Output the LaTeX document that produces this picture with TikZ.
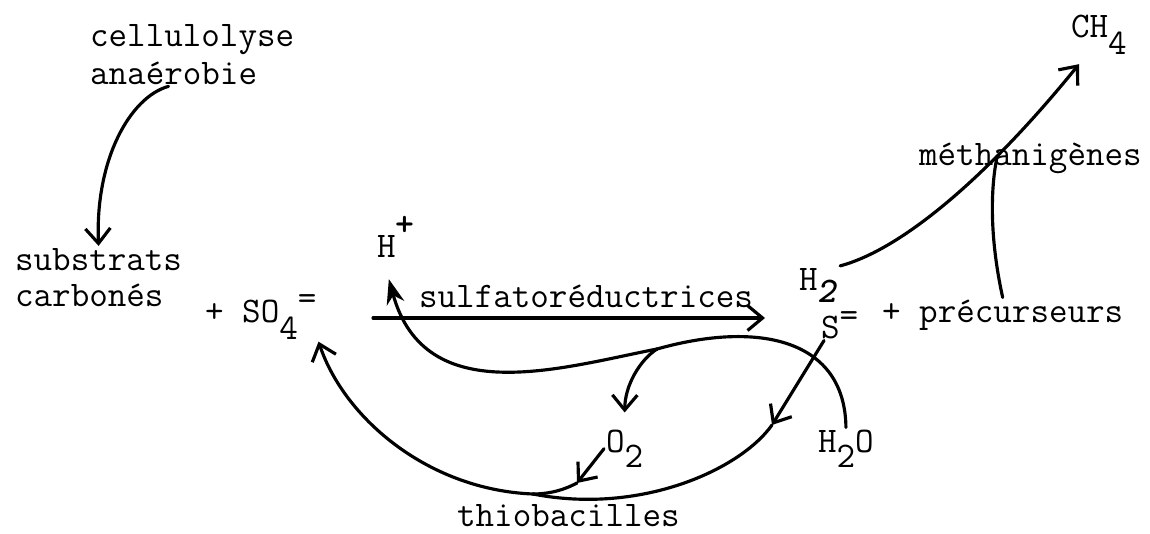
\documentclass[tikz,border=0pt]{standalone}
\usepackage{fontspec}
\usetikzlibrary{arrows.meta}

\begin{document}
\begin{tikzpicture}[x=0.02cm,y=-0.02cm,line cap=round,line join=round,
  lbl/.style={anchor=base west,inner sep=1pt,font=\ttfamily\fontsize{20.5}{22}\selectfont},
  flux/.style={line width=1.8pt},
  >={Straight Barb[length=3mm,width=5mm]}]
  \useasboundingbox (0,0) rectangle (1150,534);
  % textes
  \node[lbl] (cel) at (88,47) {cellulolyse};\node[lbl] (ana) at (88,84) {anaérobie};
  \node[lbl] (sub) at (13,270) {substrats};\node[lbl] (car) at (13,306) {carbonés};
  \node[lbl] (so4) at (203,322) {+ SO\raisebox{-10pt}{4}\raisebox{7pt}{=}};
  \node[lbl] (hp) at (375,257) {H\raisebox{12pt}{\textbf{+}}};
  \node[lbl] (sred) at (417,307) {sulfatoréductrices};
  \node[lbl] (h2) at (797,290) {H\raisebox{-7pt}{\textbf{\textit{2}}}};
  \node[lbl] (s) at (819,338) {S\raisebox{6.5pt}{=}};
  \node[lbl] (prec) at (880,322) {+ précurseurs};
  \node[lbl] (meth) at (917,165) {méthanigènes};
  \node[lbl] (ch4) at (1069,37) {CH\raisebox{-10pt}{4}};
  \node[lbl] (o2) at (604,452) {O\raisebox{-9pt}{2}};
  \node[lbl] (h2o) at (816,452) {H\raisebox{-9pt}{2}O};
  \node[lbl] (thio) at (455,526) {thiobacilles};
  % points libres
  \coordinate (RA) at (373,318);\coordinate (RB) at (765,318);
  \coordinate (BR) at (657,349);\coordinate (J) at (533,494);
  \coordinate (SA) at (772,425);\coordinate (OA) at (577,483);
  % fleches
  \draw[flux,->] ([xshift=-0.1cm]ana.south) .. controls (130,97) and (95,160) .. (sub.north);
  \draw[flux,->] (RA) -- (RB);
  \draw[flux] (h2o.north) .. controls (845,340) and (760,320) .. (BR);
  \draw[flux,-{Stealth[length=5mm,width=3.6mm]}] (BR) .. controls (560,368) and (425,410) .. ([xshift=-0.14cm,yshift=-0.4cm]hp.south);
  \draw[flux,->] (BR) .. controls (640,360) and (625,385) .. ([yshift=0.3cm]o2.north);
  \draw[flux,->] (o2.west) -- (OA);\draw[flux] (OA) .. controls (560,492) and (545,494) .. (J);
  \draw[flux,->] ([xshift=0.1cm]s.south west) -- (SA);\draw[flux] (SA) .. controls (740,470) and (640,515) .. (J);
  \draw[flux,->] (J) .. controls (430,490) and (345,420) .. (so4.south east);
  \draw[flux,->] (h2.north east) .. controls (900,250) and (985,180) .. ([xshift=0.2cm,yshift=-0.15cm]ch4.south west) coordinate[pos=0.7] (M);
  \draw[flux] (prec.north) .. controls (990,240) and (990,190) .. (M);
\end{tikzpicture}
\end{document}
